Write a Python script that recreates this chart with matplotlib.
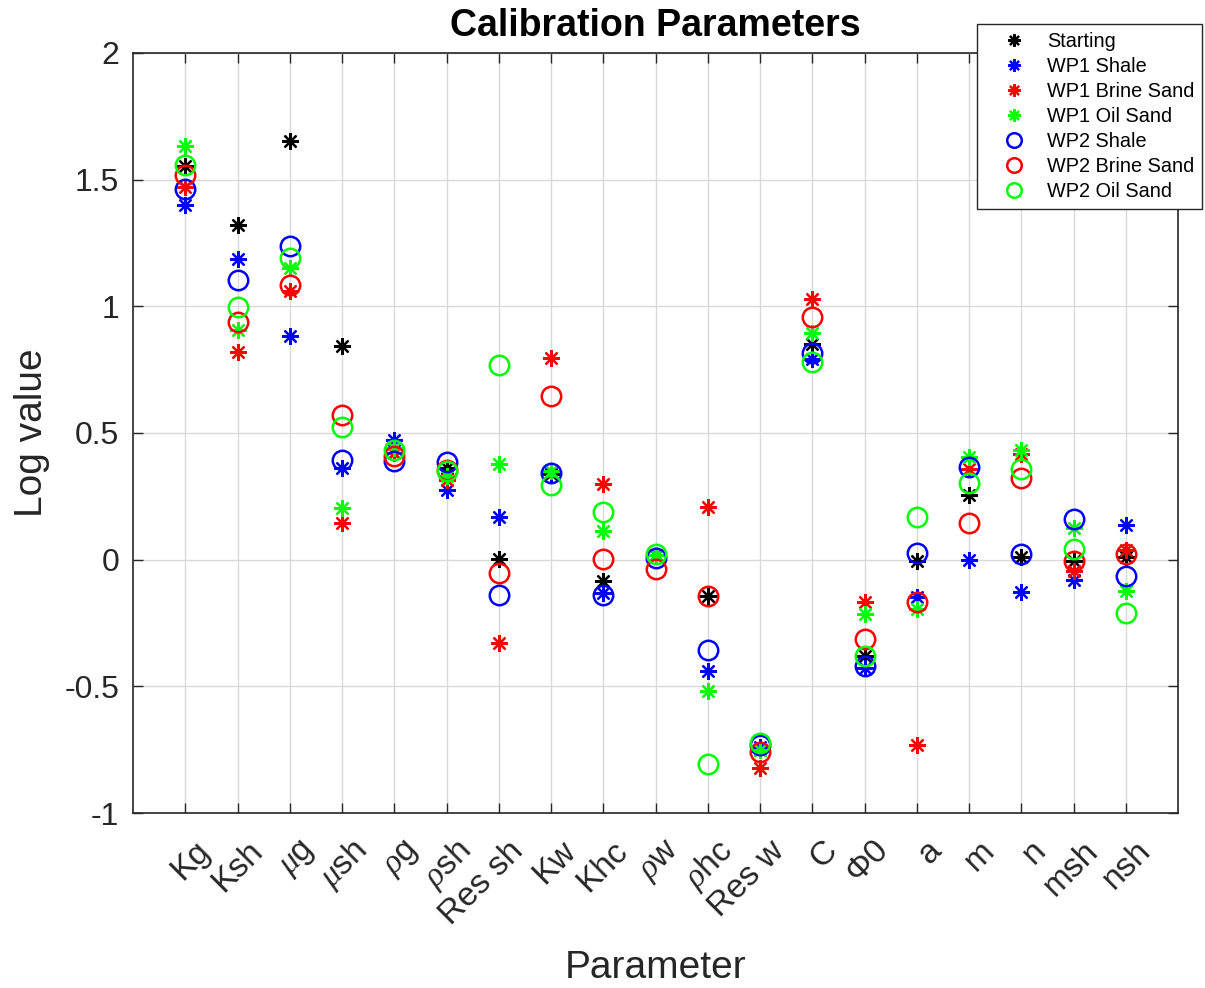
import matplotlib
matplotlib.use("Agg")
import matplotlib.pyplot as plt
import matplotlib.transforms as mtransforms
import numpy as np

plt.rcParams['font.family'] = ['Liberation Sans', 'DejaVu Sans']
plt.rcParams['axes.unicode_minus'] = False
plt.rcParams['mathtext.fontset'] = 'custom'
plt.rcParams['mathtext.it'] = 'Liberation Serif:italic'
plt.rcParams['mathtext.rm'] = 'Liberation Sans'

params = ['Kg', 'Ksh', r'$\mu$g', r'$\mu$sh', r'$\rho$g', r'$\rho$sh', 'Res sh', 'Kw', 'Khc',
          r'$\rho$w', r'$\rho$hc', 'Res w', 'C', r'$\Phi$0', 'a', 'm', 'n', 'msh', 'nsh']

# log values per calibration set, one entry per parameter
starting = [1.553, 1.32, 1.651, 0.845, 0.42, 0.362, 0.003, 0.34, -0.086, 0.02,
            -0.145, -0.75, 0.85, -0.38, -0.004, 0.254, 0.01, -0.004, 0.01]
wp1_shale = [1.398, 1.187, 0.882, 0.362, 0.474, 0.276, 0.169, 0.345, -0.13, 0.02,
             -0.438, -0.74, 0.794, -0.428, -0.147, 0.0, -0.129, -0.079, 0.136]
wp1_brine = [1.471, 0.818, 1.059, 0.145, 0.42, 0.316, -0.329, 0.796, 0.300, 0.02,
             0.208, -0.823, 1.027, -0.167, -0.732, 0.356, 0.418, -0.045, 0.037]
wp1_oil = [1.632, 0.908, 1.152, 0.204, 0.44, 0.329, 0.378, 0.349, 0.112, 0.02,
           -0.52, -0.753, 0.893, -0.216, -0.195, 0.404, 0.431, 0.125, -0.122]
wp2_shale = [1.463, 1.105, 1.240, 0.392, 0.388, 0.384, -0.138, 0.342, -0.138, 0.007,
             -0.355, -0.73, 0.815, -0.421, 0.026, 0.367, 0.023, 0.159, -0.063]
wp2_brine = [1.52, 0.937, 1.086, 0.572, 0.408, 0.355, -0.053, 0.647, 0.003, -0.037,
             -0.145, -0.76, 0.956, -0.312, -0.167, 0.146, 0.322, -0.004, 0.023]
wp2_oil = [1.557, 0.998, 1.191, 0.524, 0.434, 0.349, 0.770, 0.296, 0.187, 0.024,
           -0.805, -0.725, 0.780, -0.379, 0.169, 0.302, 0.356, 0.044, -0.211]

series = [
    ('Starting', starting, 'k', 'star'),
    ('WP1 Shale', wp1_shale, 'b', 'star'),
    ('WP1 Brine Sand', wp1_brine, 'r', 'star'),
    ('WP1 Oil Sand', wp1_oil, '#00ff00', 'star'),
    ('WP2 Shale', wp2_shale, 'b', 'circ'),
    ('WP2 Brine Sand', wp2_brine, 'r', 'circ'),
    ('WP2 Oil Sand', wp2_oil, '#00ff00', 'circ'),
]

fig = plt.figure(figsize=(12.05, 9.88), dpi=100)
ax = fig.add_axes([0.1104, 0.1771, 0.8672, 0.7693])

x = np.arange(1, len(params) + 1)
for name, vals, col, kind in series:
    if kind == 'star':
        ax.plot(x, vals, ls='none', marker=(8, 2, 0), ms=12, mew=1.6,
                color=col, label=name)
    else:
        ax.plot(x, vals, ls='none', marker='o', ms=14, mew=1.8,
                mfc='none', mec=col, label=name)

ax.set_xlim(0, 20)
ax.set_ylim(-1, 2)
ax.set_xticks(x)
ax.set_xticklabels(params, rotation=45, ha='right', va='center',
                   rotation_mode='anchor', fontsize=24)
ax.set_yticks([-1, -0.5, 0, 0.5, 1, 1.5, 2])
ax.set_yticklabels(['-1', '-0.5', '0', '0.5', '1', '1.5', '2'], fontsize=23)
ax.tick_params(direction='in', length=7, width=1, top=True, right=True,
               colors='#262626', labelcolor='#262626')
ax.tick_params(axis='x', pad=18)
ax.tick_params(axis='y', pad=10)

# nudge the slanted labels to sit right of their ticks
shift = mtransforms.ScaledTranslation(0.2, -0.08, fig.dpi_scale_trans)
for lab in ax.get_xticklabels():
    lab.set_transform(lab.get_transform() + shift)

ax.grid(True, color='#d9d9d9', lw=1)
ax.set_axisbelow(True)
for s in ax.spines.values():
    s.set_color('#262626')
    s.set_linewidth(1.2)

ax.set_xlabel('Parameter', fontsize=28, color='#262626', labelpad=14)
ax.set_ylabel('Log value', fontsize=28, color='#262626', labelpad=10)
ax.set_title('Calibration Parameters', fontsize=27, fontweight='bold', pad=12)

leg = ax.legend(loc='upper right', bbox_to_anchor=(1202 / 1205, 1 - 24 / 988),
                bbox_transform=fig.transFigure, fontsize=14.3, fancybox=False,
                edgecolor='#262626', framealpha=1, handlelength=2.9,
                handletextpad=0.2, labelspacing=0.3, borderpad=0.4,
                borderaxespad=0, markerscale=0.75)
leg.get_frame().set_linewidth(1)

fig.savefig('out.png', dpi=100)
